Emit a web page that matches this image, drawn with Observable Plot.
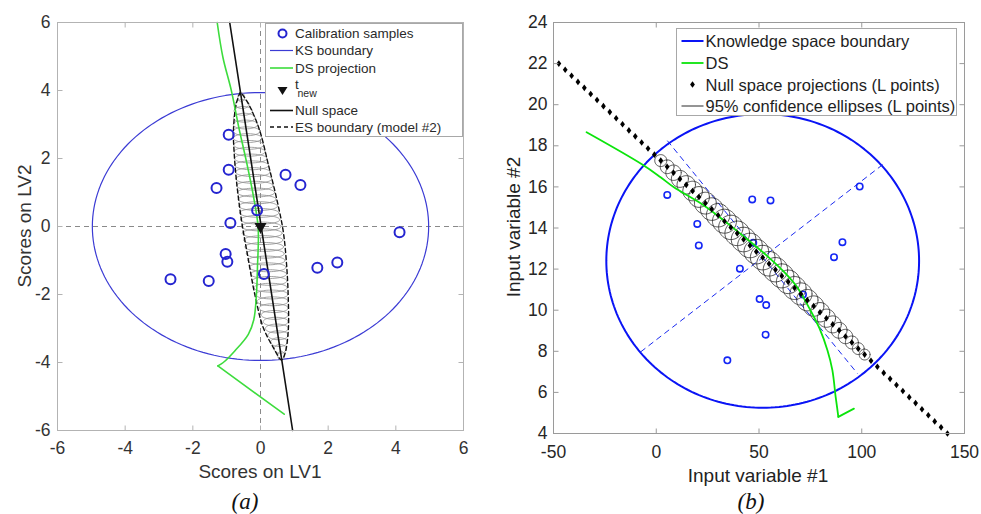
<!DOCTYPE html>
<html><head><meta charset="utf-8">
<script src="https://cdn.jsdelivr.net/npm/d3@7"></script>
<script src="https://cdn.jsdelivr.net/npm/@observablehq/plot@0.6"></script>
<style>
body{margin:0;background:#fff;}
#wrap{position:relative;width:981px;height:514px;overflow:hidden;background:#fff;font-family:"Liberation Sans",Arial,Helvetica,sans-serif;}
#wrap > svg, #wrap > div{position:absolute;}
</style></head><body><div id="wrap"></div>
<script>
// ================= Panel (a) data =================
const ticksA = [-6, -4, -2, 0, 2, 4, 6];
const calibA_x = [-0.94, -0.94, -1.30, 0.74, 1.18, -0.10, -0.89, 4.11, -1.03, -0.98, -2.66, -1.53, 0.10, 1.68, 2.27];
const calibA_y = [2.70, 1.67, 1.13, 1.52, 1.22, 0.48, 0.10, -0.17, -0.81, -1.04, -1.55, -1.60, -1.40, -1.21, -1.06];
const tNewA = [0, 0];
const ksCenterA = [0, 0];
const ksRadiiA = [4.97, 3.94];
const dsA_x = [-1.28, -1.11, -0.86, -0.64, -0.42, -0.22, -0.07, -0.09, -0.12, -0.20, -0.36, -0.76, -1.10, -1.26, 0.70];
const dsA_y = [6.00, 4.97, 3.99, 2.91, 1.93, 0.95, -0.03, -1.21, -1.99, -2.75, -3.17, -3.66, -4.00, -4.10, -5.52];
const dsA_corner = 13; // index of the sharp turn
const nullA_x = [-0.91, 0.95];
const nullA_y = [6, -6];
const esBoundA_x = [-0.60, -0.72, -0.80, -0.78, -0.71, -0.56, -0.37, -0.17, 0.08, 0.38, 0.62, 0.72, 0.82, 0.82, 0.77, 0.67, 0.47, 0.23, -0.02, -0.30, -0.51, -0.60];
const esBoundA_y = [3.95, 3.60, 2.81, 2.20, 1.34, 0.17, -0.91, -1.99, -2.97, -3.56, -3.92, -3.75, -3.07, -2.09, -1.11, -0.13, 0.85, 1.83, 2.81, 3.50, 3.85, 3.95];
// small confidence ellipses along the null space (centre y, centre x, half-width x, half-height y)
const esCy = [3.8, 3.6, 3.4, 3.2, 3.0, 2.8, 2.6, 2.4, 2.2, 2.0, 1.8, 1.6, 1.4, 1.2, 1.0, 0.8, 0.6, 0.4, 0.2, 0.0, -0.2, -0.4, -0.6, -0.8, -1.0, -1.2, -1.4, -1.6, -1.8, -2.0, -2.2, -2.4, -2.6, -2.8, -3.0, -3.2, -3.4, -3.6, -3.8];
const esCx = [-0.57, -0.54, -0.51, -0.48, -0.445, -0.41, -0.38, -0.35, -0.32, -0.29, -0.26, -0.23, -0.20, -0.17, -0.135, -0.10, -0.07, -0.04, -0.01, 0.02, 0.05, 0.08, 0.11, 0.14, 0.175, 0.21, 0.24, 0.27, 0.30, 0.33, 0.36, 0.39, 0.42, 0.45, 0.485, 0.52, 0.55, 0.58, 0.61];
const esRx = [0.10, 0.20, 0.27, 0.32, 0.36, 0.39, 0.42, 0.44, 0.46, 0.48, 0.50, 0.51, 0.53, 0.54, 0.55, 0.56, 0.57, 0.58, 0.58, 0.59, 0.59, 0.58, 0.57, 0.56, 0.55, 0.54, 0.53, 0.51, 0.49, 0.48, 0.46, 0.43, 0.40, 0.37, 0.34, 0.30, 0.25, 0.18, 0.10];
const esRyA = 0.13;

// ================= Panel (b) data =================
const ticksBx = [-50, 0, 50, 100, 150];
const ticksBy = [4, 6, 8, 10, 12, 14, 16, 18, 20, 22, 24];
const calibB_x = [5.35, 46.7, 55.6, 19.96, 20.7, 47.2, 90.6, 86.5, 40.7, 99.0, 71.4, 50.3, 53.5, 53.2, 34.6];
const calibB_y = [15.61, 15.39, 15.34, 14.20, 13.15, 13.28, 13.31, 12.58, 12.02, 16.02, 10.77, 10.54, 10.25, 8.81, 7.56];
const ksCenterB = [51.8, 12.4];
const ksRadiiB = [76.1, 7.15];
const axesB_x1 = [5.4, -7.6];
const axesB_y1 = [18.25, 7.97];
const axesB_x2 = [97.9, 111.7];
const axesB_y2 = [6.92, 17.2];
const dsB_x = [-33.9, -6.8, 2.1, 8.6, 23.2, 35.0, 44.3, 55.0, 63.8, 68.6, 75.1, 79.5, 83.3, 85.7, 87.3, 88.1, 88.6, 96.2];
const dsB_y = [18.66, 17.09, 16.47, 15.98, 15.10, 14.20, 13.45, 12.55, 11.70, 11.12, 9.98, 9.10, 8.05, 7.08, 5.78, 5.20, 4.81, 5.21];
const dsB_corner = 16;
const nullB_x = [-47.4, -44.3, -41.2, -38.1, -35.0, -31.9, -28.8, -25.7, -22.6, -19.5, -16.4, -13.3, -10.2, -7.1, -4.0, -0.9, 2.2, 5.3, 8.4, 11.5, 14.6, 17.7, 20.8, 23.9, 27.0, 30.1, 33.2, 36.3, 39.4, 42.5, 45.6, 48.7, 51.8, 54.9, 58.0, 61.1, 64.2, 67.3, 70.4, 73.5, 76.6, 79.7, 82.8, 85.9, 89.0, 92.1, 95.2, 98.3, 101.4, 104.5, 107.6, 110.7, 113.8, 116.9, 120.0, 123.1, 126.2, 129.3, 132.4, 135.5, 138.6, 141.7];
const nullB_y = [22.00, 21.70, 21.41, 21.11, 20.82, 20.52, 20.23, 19.93, 19.64, 19.34, 19.05, 18.75, 18.46, 18.16, 17.87, 17.57, 17.28, 16.98, 16.69, 16.39, 16.10, 15.80, 15.51, 15.21, 14.92, 14.62, 14.33, 14.03, 13.74, 13.44, 13.15, 12.85, 12.56, 12.26, 11.97, 11.67, 11.38, 11.08, 10.79, 10.49, 10.20, 9.90, 9.61, 9.31, 9.02, 8.72, 8.43, 8.13, 7.84, 7.54, 7.25, 6.95, 6.66, 6.36, 6.07, 5.77, 5.48, 5.18, 4.89, 4.59, 4.30, 4.00];
// 95% confidence ellipses (L points) sit on null-space points 16..48
const confFirst = 16, confLast = 48;
const confRx = [2.92, 3.36, 3.75, 4.14, 4.48, 4.77, 5.06, 5.31, 5.50, 5.70, 5.84, 5.94, 5.99, 5.99, 5.99, 5.99, 5.99, 5.99, 5.94, 5.84, 5.74, 5.60, 5.40, 5.21, 4.97, 4.72, 4.43, 4.14, 3.85, 3.51, 3.16, 2.87, 2.63];
const confRy = [0.290, 0.335, 0.374, 0.413, 0.447, 0.476, 0.505, 0.530, 0.549, 0.569, 0.583, 0.593, 0.598, 0.598, 0.598, 0.598, 0.598, 0.598, 0.593, 0.583, 0.573, 0.559, 0.539, 0.520, 0.496, 0.471, 0.442, 0.413, 0.384, 0.350, 0.316, 0.287, 0.262];

// ================= helpers =================
function ellipse(cx, cy, rx, ry, id, n = 96) {
  const pts = [];
  for (let k = 0; k <= n; k++) {
    const t = 2 * Math.PI * k / n;
    pts.push({x: cx + rx * Math.cos(t), y: cy + ry * Math.sin(t), id});
  }
  return pts;
}
const zip = (xs, ys) => xs.map((x, i) => ({x, y: ys[i]}));
const tickSym = (dx, dy) => ({draw(ctx) { ctx.moveTo(0, 0); ctx.lineTo(dx, dy); }});
const diamondSym = {draw(ctx) { ctx.moveTo(0, -3.3); ctx.lineTo(2.4, 0); ctx.lineTo(0, 3.3); ctx.lineTo(-2.4, 0); ctx.closePath(); }};
function boxTicks(xt, yt, xd, yd, color) {
  const o = {fill: "none", stroke: color, strokeWidth: 1};
  return [
    Plot.dot(xt, {x: d => d, y: () => yd[0], symbol: tickSym(0, -5), ...o}),
    Plot.dot(xt, {x: d => d, y: () => yd[1], symbol: tickSym(0, 5), ...o}),
    Plot.dot(yt, {y: d => d, x: () => xd[0], symbol: tickSym(5, 0), ...o}),
    Plot.dot(yt, {y: d => d, x: () => xd[1], symbol: tickSym(-5, 0), ...o})
  ];
}
const wrap = d3.select("#wrap");
const FONT = "'Liberation Sans', Arial, Helvetica, sans-serif";

// ================= Panel (a) =================
{
  const xd = [-6, 6], yd = [-6, 6];
  const ksPts = ellipse(ksCenterA[0], ksCenterA[1], ksRadiiA[0], ksRadiiA[1], 0, 180);
  const esPts = esCy.flatMap((cy, i) => ellipse(esCx[i], cy, esRx[i], esRyA, i, 60));
  const ds = zip(dsA_x, dsA_y);
  const plot = Plot.plot({
    width: 480, height: 460,
    marginLeft: 57, marginRight: 17, marginTop: 22, marginBottom: 30,
    x: {domain: xd, axis: null},
    y: {domain: yd, axis: null},
    style: {fontFamily: FONT, background: "transparent", overflow: "visible"},
    marks: [
      Plot.ruleX([0], {stroke: "#8a8a8a", strokeWidth: 1, strokeDasharray: "5,4"}),
      Plot.ruleY([0], {stroke: "#8a8a8a", strokeWidth: 1, strokeDasharray: "5,4"}),
      Plot.line(ksPts, {x: "x", y: "y", stroke: "#3b3bd4", strokeWidth: 1.2}),
      Plot.line(esPts, {x: "x", y: "y", z: "id", stroke: "#8c8c8c", strokeWidth: 0.8}),
      Plot.line(zip(esBoundA_x, esBoundA_y), {x: "x", y: "y", curve: "catmull-rom", stroke: "#111", strokeWidth: 1.4, strokeDasharray: "4,3"}),
      Plot.line(ds.slice(0, dsA_corner + 1), {x: "x", y: "y", curve: "catmull-rom", stroke: "#3ddc3d", strokeWidth: 1.6}),
      Plot.line(ds.slice(dsA_corner), {x: "x", y: "y", stroke: "#3ddc3d", strokeWidth: 1.6}),
      Plot.line(zip(nullA_x, nullA_y), {x: "x", y: "y", stroke: "#111", strokeWidth: 1.6}),
      Plot.dot(zip(calibA_x, calibA_y), {x: "x", y: "y", r: 5, stroke: "#2525d0", strokeWidth: 2, fill: "none"}),
      Plot.dot([tNewA], {x: d => d[0], y: d => d[1], symbol: "triangle", rotate: 180, r: 4.5, fill: "#111", stroke: "none"}),
      Plot.frame({stroke: "#b3b3b3", strokeWidth: 1}),
      ...boxTicks(ticksA, ticksA, xd, yd, "#b3b3b3"),
      Plot.text(ticksA, {x: d => d, y: () => yd[0], text: d => String(d), dy: 11, lineAnchor: "top", fontSize: 17.5, fill: "#333"}),
      Plot.text(ticksA, {y: d => d, x: () => xd[0], text: d => String(d), dx: -7, textAnchor: "end", lineAnchor: "middle", fontSize: 17.5, fill: "#333"})
    ]
  });
  d3.select(plot).style("left", "0px").style("top", "0px");
  wrap.node().appendChild(plot);
}

// ================= Panel (b) =================
{
  const xd = [-50, 150], yd = [4, 24];
  const ksPts = ellipse(ksCenterB[0], ksCenterB[1], ksRadiiB[0], ksRadiiB[1], 0, 240);
  const confPts = [];
  for (let i = confFirst; i <= confLast; i++) {
    const j = i - confFirst;
    confPts.push(...ellipse(nullB_x[i], nullB_y[i], confRx[j], confRy[j], j, 60));
  }
  const axesB = axesB_x1.map((x1, i) => ({x1, y1: axesB_y1[i], x2: axesB_x2[i], y2: axesB_y2[i]}));
  const ds = zip(dsB_x, dsB_y);
  const plot = Plot.plot({
    width: 491, height: 463,
    marginLeft: 63, marginRight: 17, marginTop: 22, marginBottom: 30,
    x: {domain: xd, axis: null},
    y: {domain: yd, axis: null},
    style: {fontFamily: FONT, background: "transparent", overflow: "visible"},
    marks: [
      Plot.line(ksPts, {x: "x", y: "y", stroke: "#0a14f5", strokeWidth: 2}),
      Plot.link(axesB, {x1: "x1", y1: "y1", x2: "x2", y2: "y2", stroke: "#1a2af0", strokeWidth: 1, strokeDasharray: "6,4"}),
      Plot.dot(zip(calibB_x, calibB_y), {x: "x", y: "y", r: 3.2, stroke: "#1426f5", strokeWidth: 1.6, fill: "none"}),
      Plot.line(confPts, {x: "x", y: "y", z: "id", stroke: "#2a2a2a", strokeWidth: 0.8}),
      Plot.line(ds.slice(0, dsB_corner + 1), {x: "x", y: "y", curve: "catmull-rom", stroke: "#0be40b", strokeWidth: 1.8}),
      Plot.line(ds.slice(dsB_corner), {x: "x", y: "y", stroke: "#0be40b", strokeWidth: 1.8}),
      Plot.dot(zip(nullB_x, nullB_y), {x: "x", y: "y", symbol: diamondSym, fill: "#000", stroke: "none"}),
      Plot.frame({stroke: "#9a9a9a", strokeWidth: 1}),
      ...boxTicks(ticksBx, ticksBy, xd, yd, "#9a9a9a"),
      Plot.text(ticksBx, {x: d => d, y: () => yd[0], text: d => String(d), dy: 12, lineAnchor: "top", fontSize: 17.5, fill: "#262626"}),
      Plot.text(ticksBy, {y: d => d, x: () => xd[0], text: d => String(d), dx: -6, textAnchor: "end", lineAnchor: "middle", fontSize: 17.5, fill: "#262626"})
    ]
  });
  d3.select(plot).style("left", "490px").style("top", "0px");
  wrap.node().appendChild(plot);
}

// ================= labels, legends, captions =================
const over = wrap.append("svg").attr("width", 981).attr("height", 514).style("left", "0px").style("top", "0px")
  .attr("font-family", FONT);
// axis titles
over.append("text").attr("x", 260).attr("y", 478).attr("text-anchor", "middle").attr("font-size", 19).attr("fill", "#333").text("Scores on LV1");
over.append("text").attr("transform", "translate(24,226) rotate(-90)").attr("text-anchor", "middle").attr("dominant-baseline", "central").attr("font-size", 19).attr("fill", "#333").text("Scores on LV2");
over.append("text").attr("x", 758).attr("y", 482).attr("text-anchor", "middle").attr("font-size", 19).attr("fill", "#222").text("Input variable #1");
over.append("text").attr("transform", "translate(513,227) rotate(-90)").attr("text-anchor", "middle").attr("dominant-baseline", "central").attr("font-size", 19).attr("fill", "#222").text("Input variable #2");
// captions
over.append("text").attr("x", 245).attr("y", 509).attr("text-anchor", "middle").attr("font-size", 23).attr("font-style", "italic").attr("font-family", "'Liberation Serif', 'Times New Roman', serif").attr("fill", "#111").text("(a)");
over.append("text").attr("x", 751).attr("y", 509).attr("text-anchor", "middle").attr("font-size", 23).attr("font-style", "italic").attr("font-family", "'Liberation Serif', 'Times New Roman', serif").attr("fill", "#111").text("(b)");

// legend (a)
{
  const g = over.append("g").attr("transform", "translate(265,23)");
  g.append("rect").attr("x", 0.5).attr("y", 0.5).attr("width", 197).attr("height", 113).attr("fill", "#fff").attr("stroke", "#a8a8a8");
  const fs = 13.5, tx = 30, col = "#2a2a2a";
  const txt = (y, s) => g.append("text").attr("x", tx).attr("y", y).attr("dominant-baseline", "central").attr("font-size", fs).attr("fill", col).text(s);
  g.append("circle").attr("cx", 17.5).attr("cy", 10.5).attr("r", 4).attr("fill", "none").attr("stroke", "#2525d0").attr("stroke-width", 2);
  txt(10.5, "Calibration samples");
  g.append("line").attr("x1", 5).attr("x2", 28).attr("y1", 27.5).attr("y2", 27.5).attr("stroke", "#3b3bd4").attr("stroke-width", 1.2);
  txt(27.5, "KS boundary");
  g.append("line").attr("x1", 5).attr("x2", 28).attr("y1", 45).attr("y2", 45).attr("stroke", "#3ddc3d").attr("stroke-width", 1.6);
  txt(45, "DS projection");
  g.append("path").attr("d", "M12.5,64 L22.5,64 L17.5,72 Z").attr("fill", "#111");
  g.append("text").attr("x", 30).attr("y", 66).attr("font-size", fs).attr("fill", col).text("t");
  g.append("text").attr("x", 32.5).attr("y", 74).attr("font-size", 10.5).attr("fill", col).text("new");
  g.append("line").attr("x1", 5).attr("x2", 28).attr("y1", 87.5).attr("y2", 87.5).attr("stroke", "#111").attr("stroke-width", 1.6);
  txt(87.5, "Null space");
  g.append("line").attr("x1", 5).attr("x2", 28).attr("y1", 104).attr("y2", 104).attr("stroke", "#111").attr("stroke-width", 1.4).attr("stroke-dasharray", "4,3");
  txt(104, "ES boundary (model #2)");
}
// legend (b)
{
  const g = over.append("g").attr("transform", "translate(676,28)");
  g.append("rect").attr("x", 0.5).attr("y", 0.5).attr("width", 280).attr("height", 87).attr("fill", "#fff").attr("stroke", "#a8a8a8");
  const fs = 16.5, tx = 29.5, col = "#1e1e1e";
  const txt = (y, s) => g.append("text").attr("x", tx).attr("y", y).attr("dominant-baseline", "central").attr("font-size", fs).attr("fill", col).text(s);
  g.append("line").attr("x1", 5.5).attr("x2", 27.5).attr("y1", 13).attr("y2", 13).attr("stroke", "#0a14f5").attr("stroke-width", 2);
  txt(13, "Knowledge space boundary");
  g.append("line").attr("x1", 5.5).attr("x2", 27.5).attr("y1", 35).attr("y2", 35).attr("stroke", "#0be40b").attr("stroke-width", 1.8);
  txt(35, "DS");
  g.append("path").attr("d", "M16.5,53.2 L18.9,56.5 L16.5,59.8 L14.1,56.5 Z").attr("fill", "#000");
  txt(56.5, "Null space projections (L points)");
  g.append("line").attr("x1", 5.5).attr("x2", 27.5).attr("y1", 78).attr("y2", 78).attr("stroke", "#2a2a2a").attr("stroke-width", 1);
  txt(78, "95% confidence ellipses (L points)");
}
</script>
</body></html>
